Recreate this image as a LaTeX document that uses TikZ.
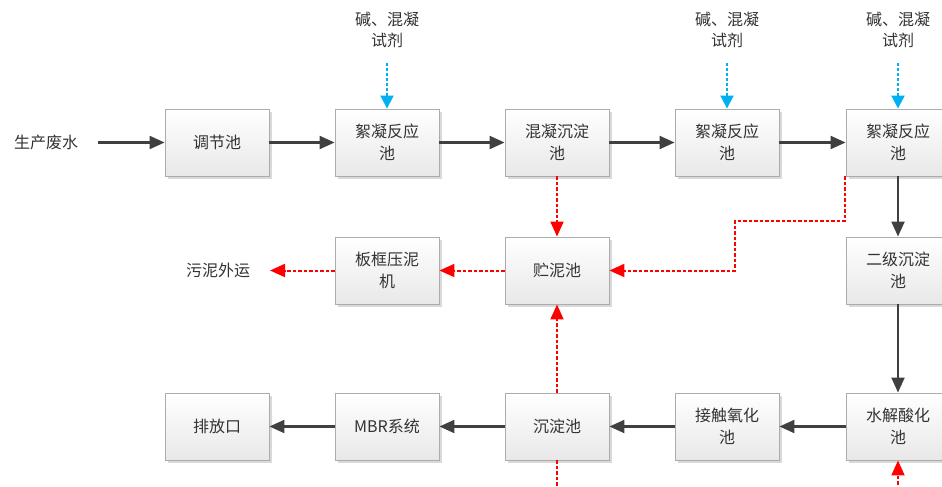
\documentclass[tikz,border=0pt]{standalone}
\usepackage{fontspec}
\setmainfont{Noto Sans CJK SC}
\usetikzlibrary{arrows.meta,shadows}

\definecolor{flowgray}{HTML}{404040}
\definecolor{sludgered}{HTML}{FF0000}
\definecolor{dosingblue}{HTML}{00B0F0}
\definecolor{txtgray}{HTML}{333333}

\tikzset{
  tank/.style={draw=gray!65, line width=0.9pt, top color=white, bottom color=gray!18,
    minimum width=104pt, minimum height=67pt, align=center, text=txtgray,
    font=\fontsize{16}{22}\selectfont,
    drop shadow={shadow xshift=3pt, shadow yshift=-3pt, opacity=.3, fill=gray}},
  label/.style={align=center, text=txtgray, font=\fontsize{16}{21}\selectfont},
  water/.style={draw=flowgray, line width=2.2pt, -{Triangle[length=15pt,width=13pt]}},
  sludge/.style={draw=sludgered, line width=2pt, dash pattern=on 3.5pt off 2pt,
    -{Triangle[length=15pt,width=13pt,fill=sludgered]}},
  sludgeline/.style={draw=sludgered, line width=2pt, dash pattern=on 3.5pt off 2pt},
  dosing/.style={draw=dosingblue, line width=2pt, dash pattern=on 3pt off 2pt,
    -{Triangle[length=13pt,width=13pt,fill=dosingblue]}}
}

\begin{document}
\begin{tikzpicture}[x=1pt,y=-1pt]
\path[use as bounding box] (0,0) rectangle (942,487);
\clip (0,0) rectangle (942,487);

% top row
\node[tank] (t1) at (217,142.5) {调节池};
\node[tank] (t2) at (387,142.5) {絮凝反应\\池};
\node[tank] (t3) at (557,142.5) {混凝沉淀\\池};
\node[tank] (t4) at (727,142.5) {絮凝反应\\池};
\node[tank] (t5) at (898,142.5) {絮凝反应\\池};

% middle row
\node[tank] (m1) at (387,270.5) {板框压泥\\机};
\node[tank] (m2) at (557,270.5) {贮泥池};
\node[tank] (m3) at (898,270.5) {二级沉淀\\池};

% bottom row
\node[tank] (b1) at (217,426.5) {排放口};
\node[tank] (b2) at (387,426.5) {MBR系统};
\node[tank] (b3) at (557,426.5) {沉淀池};
\node[tank] (b4) at (727,426.5) {接触氧化\\池};
\node[tank] (b5) at (898,426.5) {水解酸化\\池};

% free texts
\node[label] (feed) at (46,142.5) {生产废水};
\node[label] (haul) at (218,270.5) {污泥外运};
\node[label] (d2) at (387,30) {碱、混凝\\试剂};
\node[label] (d4) at (727,30) {碱、混凝\\试剂};
\node[label] (d5) at (898,30) {碱、混凝\\试剂};

% free ends of connectors
\coordinate (feedend) at (98,142.5);
\coordinate (haulend) at (270,270.5);
\coordinate (q2) at (387,63);
\coordinate (q4) at (727,63);
\coordinate (q5) at (898,63);
\coordinate (bend1) at (845,221);
\coordinate (bend2) at (735,221);
\coordinate (bend3) at (735,270.5);
\coordinate (drain) at (557,490);
\coordinate (inflow) at (898,490);

% water line
\draw[water] (feedend) -- (t1);
\draw[water] (t1) -- (t2);
\draw[water] (t2) -- (t3);
\draw[water] (t3) -- (t4);
\draw[water] (t4) -- (t5);
\draw[water] (t5) -- (m3);
\draw[water] (m3) -- (b5);
\draw[water] (b5) -- (b4);
\draw[water] (b4) -- (b3);
\draw[water] (b3) -- (b2);
\draw[water] (b2) -- (b1);

% chemical dosing
\draw[dosing] (q2) -- (t2);
\draw[dosing] (q4) -- (t4);
\draw[dosing] (q5) -- (t5);

% sludge line
\draw[sludge] (t3) -- (m2);
\draw[sludge] (t5.south west -| bend1) -- (bend1) -- (bend2) -- (bend3) -- (m2);
\draw[sludge] (b3) -- (m2);
\draw[sludge] (m2) -- (m1);
\draw[sludge] (m1) -- (haulend);
\draw[sludgeline] (b3) -- (drain);
\draw[sludge] (inflow) -- (b5);
\end{tikzpicture}
\end{document}
